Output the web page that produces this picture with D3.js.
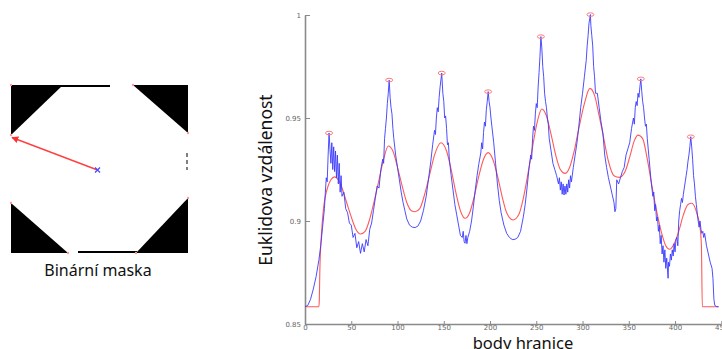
<!DOCTYPE html>
<html>
<head>
<meta charset="utf-8">
<script src="https://cdn.jsdelivr.net/npm/d3@7"></script>
<style>
  body { margin: 0; background: #fff; }
  svg { display: block; }
  .tick text { fill: #666; font-family: "DejaVu Sans", sans-serif; font-size: 7px; }
</style>
</head>
<body>
<svg id="chart" width="722" height="349"></svg>
<script>
// boundary point index (x) and euclidean distance (y) — raw profile
const blueX = [0,3,6,9,12,15,17,19,21,22,23,24,25,26,27,28,29,30,31,32,33,34,35,36,37,38,39,40,42,44,46,48,50,52,54,56,58,60,62,64,66,68,70,72,74,76,78,80,82,84,85,86,87,88,89,90,91,92,93,94,95,96,98,100,102,104,106,108,110,113,116,119,122,125,128,131,134,136,138,140,141,142,143,144,145,146,147.8,149,150,151,152,153,154,155,156,158,160,162,164,166,168,170,171,172,173,174,175,176,178,180,182,184,186,188,190,191,192,193,194,195,196,197,198,199,200,201,202,204,206,208,210,212,215,218,221,224,227,230,233,236,238,240,242,244,245,246,247,248,249,250,251,252,253,254,255,256,257,258,259,260,261,262,263,264,266,268,270,272,274,275,276,277,278,279,280,281,282,283,284,285,286,287,288,290,292,294,296,298,300,302,304,305,306,307,308.5,309,310,311,312,313,314,316,318,320,322,324,326,328,330,332,334,335,336,337,339,341,343,345,347,349,351,353,355,356,357,358,359,360,361,362,363,364,365,366,367,368,369,370,372,374,376,377,378,379,380,381,382,383,384,385,386,387,388,389,390,391,392.5,393,394,395,396,397,398,399,400,401,402,403,404,405,406,407,408,409,410,411,412,413,414,415,416,417,418,419,420,421,422,423,424,425,426,427,428,429,430,431,432,434,436,438,440,441,442,443,445,447];
const blueY = [0.8584,0.859,0.862,0.867,0.873,0.881,0.888,0.897,0.906,0.914,0.921,0.919,0.932,0.9427,0.935,0.928,0.938,0.925,0.936,0.924,0.934,0.921,0.932,0.918,0.928,0.914,0.922,0.912,0.914,0.906,0.904,0.899,0.898,0.892,0.894,0.887,0.890,0.8843,0.889,0.885,0.891,0.888,0.896,0.899,0.905,0.911,0.917,0.916,0.925,0.930,0.928,0.940,0.945,0.950,0.957,0.962,0.9684,0.960,0.955,0.952,0.945,0.940,0.932,0.926,0.920,0.914,0.909,0.905,0.901,0.898,0.897,0.8968,0.8975,0.900,0.905,0.912,0.922,0.929,0.937,0.944,0.942,0.950,0.955,0.953,0.960,0.965,0.9718,0.962,0.958,0.950,0.951,0.945,0.937,0.938,0.930,0.922,0.915,0.908,0.903,0.898,0.893,0.892,0.895,0.890,0.8892,0.893,0.889,0.892,0.895,0.900,0.907,0.915,0.922,0.928,0.933,0.938,0.935,0.943,0.948,0.946,0.954,0.958,0.9628,0.958,0.955,0.950,0.946,0.938,0.928,0.918,0.910,0.904,0.898,0.894,0.892,0.891,0.8911,0.892,0.895,0.902,0.908,0.916,0.925,0.932,0.930,0.940,0.946,0.944,0.952,0.957,0.955,0.965,0.972,0.980,0.9895,0.984,0.975,0.970,0.962,0.958,0.955,0.950,0.947,0.940,0.934,0.928,0.925,0.922,0.918,0.921,0.915,0.919,0.913,0.918,0.9126,0.917,0.913,0.918,0.914,0.920,0.916,0.922,0.919,0.926,0.932,0.938,0.946,0.955,0.962,0.970,0.978,0.985,0.990,0.996,1.0002,0.995,0.990,0.985,0.975,0.970,0.962,0.962,0.955,0.948,0.9427,0.932,0.926,0.921,0.917,0.913,0.909,0.9045,0.906,0.920,0.918,0.921,0.924,0.926,0.932,0.935,0.938,0.945,0.950,0.947,0.955,0.958,0.956,0.962,0.960,0.965,0.969,0.963,0.958,0.955,0.950,0.946,0.947,0.940,0.930,0.920,0.912,0.914,0.905,0.908,0.900,0.902,0.895,0.898,0.889,0.893,0.884,0.888,0.880,0.886,0.877,0.882,0.8722,0.880,0.878,0.884,0.881,0.886,0.883,0.889,0.885,0.891,0.892,0.888,0.900,0.905,0.908,0.911,0.909,0.913,0.916,0.919,0.922,0.925,0.929,0.932,0.936,0.9409,0.936,0.930,0.922,0.918,0.912,0.908,0.904,0.900,0.897,0.900,0.896,0.894,0.895,0.892,0.894,0.888,0.884,0.880,0.877,0.872,0.862,0.859,0.8584,0.8584];

// smoothed profile
const redX = [0,15,15.5,16,18,20,22,25,28,32,36,40,45,50,55,60,65,70,75,80,85,90,95,100,105,110,115,119,124,130,135,140,147,153,158,163,168,173,178,183,188,193,198,203,208,213,218,225,231,236,241,246,251,256,261,266,271,276,281,286,291,296,302,308,313,318,323,328,334,340,346,351,356,360,365,370,375,380,385,390,394,399,404,409,414,418,422,424,427,428.5,429.5,447];
const redY = [0.8584,0.8584,0.862,0.875,0.895,0.906,0.912,0.917,0.920,0.9214,0.920,0.916,0.909,0.902,0.896,0.8937,0.895,0.901,0.910,0.920,0.930,0.9364,0.934,0.926,0.917,0.909,0.905,0.9045,0.906,0.914,0.923,0.932,0.938,0.934,0.925,0.914,0.905,0.9013,0.904,0.912,0.922,0.930,0.9332,0.930,0.922,0.912,0.904,0.9005,0.903,0.911,0.923,0.936,0.948,0.9544,0.951,0.942,0.932,0.925,0.9231,0.926,0.934,0.945,0.957,0.9644,0.961,0.951,0.940,0.929,0.922,0.9212,0.924,0.931,0.939,0.9417,0.940,0.930,0.917,0.905,0.895,0.888,0.8863,0.889,0.895,0.903,0.908,0.9086,0.906,0.903,0.897,0.888,0.8584,0.8584];

// detected peaks (corners)
const peakX = [26,91,147.8,198,255,308.5,363,417];
const peakY = [0.9427,0.9684,0.9718,0.9628,0.9895,1.0002,0.969,0.9409];

const xTicks = [0,50,100,150,200,250,300,350,400,450];
const yTicks = [0.85,0.9,0.95,1];

// binary mask drawing (pixels of the thumbnail)
const maskCorners = [
  [[11,85],[63,85],[11,135]],
  [[133,85],[188,85],[188,133]],
  [[11,203],[11,253],[68,253]],
  [[188,198],[188,253],[136,253]]
];
const maskCenter = [97.5, 170];
const maskFar = [12, 137.5];

const svg = d3.select("#chart");

const x = d3.scaleLinear().domain([0, 450]).range([305, 721.3]);
const y = d3.scaleLinear().domain([0.85, 1]).range([324, 15]);

// axes
const yAxis = svg.append("g")
  .attr("transform", "translate(305,0)")
  .call(d3.axisLeft(y).tickValues(yTicks).tickFormat(d => d3.format("")(d)).tickSizeInner(-5).tickSizeOuter(0).tickPadding(4));
const xAxis = svg.append("g")
  .attr("transform", "translate(0,324)")
  .call(d3.axisBottom(x).tickValues(xTicks).tickSizeInner(-3).tickSizeOuter(0).tickPadding(1));
[xAxis, yAxis].forEach(a => {
  a.select(".domain").attr("stroke", "#8a8a8a").attr("stroke-width", 1.6);
  a.selectAll(".tick line").attr("stroke", "#8a8a8a");
});

const blue = blueX.map((d, i) => [d, blueY[i]]);
const red = redX.map((d, i) => [d, redY[i]]);

svg.append("path")
  .datum(red)
  .attr("fill", "none")
  .attr("stroke", "#ff5a5a")
  .attr("stroke-width", 1.1)
  .attr("d", d3.line().x(d => x(d[0])).y(d => y(d[1])).curve(d3.curveMonotoneX));

svg.append("path")
  .datum(blue)
  .attr("fill", "none")
  .attr("stroke", "#3b3bff")
  .attr("stroke-width", 1)
  .attr("stroke-opacity", 0.9)
  .attr("d", d3.line().x(d => x(d[0])).y(d => y(d[1])));

svg.selectAll(".peak")
  .data(peakX)
  .join("ellipse")
  .attr("class", "peak")
  .attr("cx", d => x(d))
  .attr("cy", (d, i) => y(peakY[i]))
  .attr("rx", 3.5)
  .attr("ry", 1.8)
  .attr("fill", "none")
  .attr("stroke", "#ff7a7a")
  .attr("stroke-width", 1);

// axis titles
svg.append("text")
  .attr("transform", "translate(272,180) rotate(-90)")
  .attr("text-anchor", "middle")
  .attr("font-family", "Noto Sans, sans-serif")
  .attr("font-size", 17.5)
  .attr("fill", "#111")
  .text("Euklidova vzdálenost");

svg.append("text")
  .attr("x", 523)
  .attr("y", 349)
  .attr("text-anchor", "middle")
  .attr("font-family", "Noto Sans, sans-serif")
  .attr("font-size", 16.5)
  .attr("fill", "#111")
  .text("body hranice");

// binary mask thumbnail
const mask = svg.append("g");
mask.append("line").attr("x1", 11).attr("x2", 110).attr("y1", 86).attr("y2", 86).attr("stroke", "#000").attr("stroke-width", 2);
mask.append("line").attr("x1", 78).attr("x2", 137).attr("y1", 252).attr("y2", 252).attr("stroke", "#000").attr("stroke-width", 2);
mask.append("line").attr("x1", 187).attr("x2", 187).attr("y1", 153).attr("y2", 170).attr("stroke", "#000").attr("stroke-width", 1).attr("stroke-dasharray", "4,3");
mask.selectAll("polygon")
  .data(maskCorners)
  .join("polygon")
  .attr("points", d => d.map(p => p.join(",")).join(" "))
  .attr("fill", "#000");
mask.selectAll(".vtx")
  .data(maskCorners.map(c => c[0]).concat(maskCorners.map(c => c[c.length - 1])))
  .join("circle")
  .attr("class", "vtx")
  .attr("cx", d => d[0]).attr("cy", d => d[1]).attr("r", 1.2)
  .attr("fill", "#ff9a9a");

svg.append("defs").append("marker")
  .attr("id", "arr")
  .attr("viewBox", "0 0 10 10")
  .attr("refX", 9).attr("refY", 5)
  .attr("markerWidth", 5).attr("markerHeight", 5)
  .attr("orient", "auto")
  .append("path").attr("d", "M0,0 L10,5 L0,10 z").attr("fill", "#ff3030");

mask.append("line")
  .attr("x1", maskCenter[0]).attr("y1", maskCenter[1])
  .attr("x2", maskFar[0]).attr("y2", maskFar[1])
  .attr("stroke", "#ff4040").attr("stroke-width", 1.4)
  .attr("marker-end", "url(#arr)");

mask.append("path")
  .attr("d", `M${maskCenter[0]-2.5},${maskCenter[1]-2.5}L${maskCenter[0]+2.5},${maskCenter[1]+2.5}M${maskCenter[0]-2.5},${maskCenter[1]+2.5}L${maskCenter[0]+2.5},${maskCenter[1]-2.5}`)
  .attr("stroke", "#4a4aff").attr("stroke-width", 1.3);

svg.append("text")
  .attr("x", 98)
  .attr("y", 276)
  .attr("text-anchor", "middle")
  .attr("font-family", "Noto Sans, sans-serif")
  .attr("font-size", 16)
  .attr("fill", "#111")
  .text("Binární maska");
</script>
</body>
</html>
